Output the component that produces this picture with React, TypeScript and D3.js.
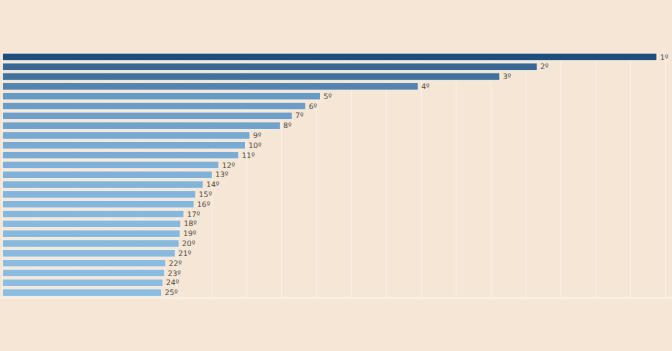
import { useEffect, useRef } from "react";
import * as d3 from "d3";

// Posiciones del ranking y valores
const rankings = [
  "1º", "2º", "3º", "4º", "5º", "6º", "7º", "8º", "9º", "10º",
  "11º", "12º", "13º", "14º", "15º", "16º", "17º", "18º", "19º", "20º",
  "21º", "22º", "23º", "24º", "25º",
];
const valores = [
  187.5, 153.2, 142.5, 119.1, 91.1, 86.9, 83.0, 79.6, 70.9, 69.6,
  67.7, 62.0, 60.1, 57.5, 55.4, 54.9, 52.0, 51.1, 50.9, 50.6,
  49.5, 46.8, 46.5, 46.0, 45.6,
];
const gridTicks = d3.range(0, 200, 10);

const W = 672;
const H = 351;

const App = () => {
  const ref = useRef<SVGSVGElement | null>(null);

  useEffect(() => {
    if (!ref.current) return;
    const svg = d3.select(ref.current);
    svg.selectAll("*").remove();

    const datos = rankings.map((r, i) => ({ rank: r, valor: valores[i] }));

    const x = d3.scaleLinear().domain([0, 190]).range([2.5, 665.6]);
    const y = d3
      .scaleBand<string>()
      .domain(rankings)
      .range([52, 297.5])
      .paddingInner(0.24)
      .paddingOuter(0.12);

    const color = d3
      .scaleLinear<string>()
      .domain([d3.min(valores) as number, d3.max(valores) as number])
      .range(["#8bbde3", "#1f4d7d"]);

    svg.append("rect").attr("width", W).attr("height", H).attr("fill", "#f5e6d6");

    // Rejilla vertical
    svg
      .append("g")
      .selectAll("line")
      .data(gridTicks)
      .enter()
      .append("line")
      .attr("x1", (d) => x(d))
      .attr("x2", (d) => x(d))
      .attr("y1", 52)
      .attr("y2", 298)
      .attr("stroke", "#faf0e6")
      .attr("stroke-width", 1);

    // Línea base
    svg
      .append("line")
      .attr("x1", 0)
      .attr("x2", W)
      .attr("y1", 298)
      .attr("y2", 298)
      .attr("stroke", "#faf0e6")
      .attr("stroke-width", 1.5);

    // Barras
    svg
      .append("g")
      .selectAll("rect")
      .data(datos)
      .enter()
      .append("rect")
      .attr("x", x(0))
      .attr("y", (d) => y(d.rank) as number)
      .attr("width", (d) => x(d.valor) - x(0))
      .attr("height", y.bandwidth())
      .attr("fill", (d) => color(d.valor))
      .attr("stroke", "#fcf3e8")
      .attr("stroke-width", 0.8);

    // Etiquetas
    svg
      .append("g")
      .selectAll("text")
      .data(datos)
      .enter()
      .append("text")
      .attr("x", (d) => x(d.valor) + 3)
      .attr("y", (d) => (y(d.rank) as number) + y.bandwidth() / 2)
      .attr("dy", "0.35em")
      .style("font-family", "'DejaVu Sans', sans-serif")
      .style("font-size", "7.5px")
      .style("fill", "#4f4a45")
      .text((d) => d.rank);
  }, []);

  return (
    <svg
      ref={ref}
      width={W}
      height={H}
      style={{ position: "fixed", left: 0, top: 0, display: "block" }}
    />
  );
};

export default App;
